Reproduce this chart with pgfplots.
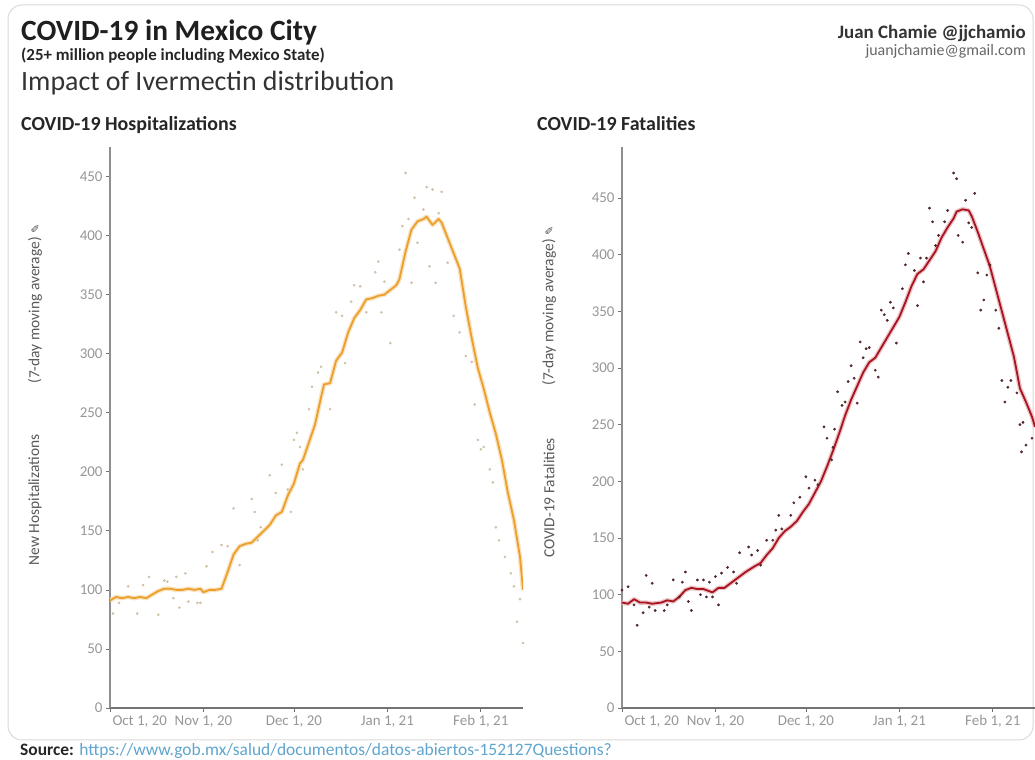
\documentclass[border=0pt]{standalone}
\usepackage{pgfplots}
\usepackage{pgfplotstable}
\pgfplotsset{compat=1.18}
\usepackage{fontspec}
\setmainfont{Carlito}
\newfontfamily\dejavu{DejaVu Sans}

\definecolor{hosp}{RGB}{236,160,44}
\definecolor{fatal}{RGB}{170,20,32}
\definecolor{hdot}{RGB}{208,192,166}
\definecolor{fdot}{RGB}{80,40,45}
\definecolor{tickgray}{RGB}{150,150,150}
\definecolor{axgray}{RGB}{115,115,115}
\definecolor{linkblue}{RGB}{95,165,205}
\newcommand\octlab{Oct 1, 20}

% 7-day moving averages, day 0 = Oct 1, 2020
\pgfplotstableread{
x y
0 91
2 94
4 93
6 94
8 93
10 94
12 93
14 96
16 99
18 101
20 101
22 100
24 100
26 101
28 100
30 101
31 98
33 100
35 100
37 101
39 115
41 130
43 137
45 139
47 140
49 145
51 150
53 155
55 163
57 166
59 180
61 190
63 207
64 210
66 225
68 240
70 263
71 274
73 275
75 294
77 301
79 318
81 330
83 337
85 346
87 347
89 349
91 350
93 354
95 358
96 363
98 386
100 405
102 412
104 414
105 416
107 409
109 414
110 411
112 398
114 385
116 372
118 340
120 313
122 288
124 270
126 250
128 232
130 210
132 182
134 159
136 128
137 100
}\hospma

\pgfplotstableread{
x y
0 93
2 92
4 96
6 93
8 93
10 92
13 93
15 95
17 94
19 98
21 104
23 106
25 105
27 105
29 103
30 102
32 106
34 106
36 110
38 114
41 120
44 125
46 128
48 135
50 141
52 150
54 156
56 160
58 165
60 173
62 180
64 190
66 200
68 213
70 227
72 242
74 258
76 272
78 284
80 296
82 305
84 309
86 318
88 327
90 336
92 345
94 358
96 372
98 383
100 387
102 395
104 403
106 415
108 424
110 432
111 438
113 440
115 439
116 434
118 420
120 405
122 390
124 370
126 350
128 330
130 310
132 282
134 270
136 257
137 248
}\fatalma

\pgfplotsset{chamie/.style={
  scale only axis, width=413bp, height=561bp,
  xmin=0, xmax=137,
  axis x line*=bottom, axis y line*=left,
  x axis line style={axgray, line width=1.6bp},
  y axis line style={axgray!80, line width=1.2bp},
  xtick={31,61,92,123},
  xticklabels={{Nov 1, 20},{Dec 1, 20},{Jan 1, 21},{Feb 1, 21}},
  extra x ticks={0},
  extra x tick labels={\octlab},
  extra x tick style={xticklabel style={anchor=north west, xshift=-1bp}},
  ytick={0,50,...,450},
  tick align=outside, major tick length=4bp,
  tick style={axgray, line width=0.7bp},
  /pgf/number format/assume math mode=true,
  ticklabel style={font=\fontsize{15}{15}\selectfont, text=tickgray},
}}

\begin{document}
\begin{tikzpicture}[x=1bp,y=1bp]
\useasboundingbox (0,0) rectangle (1035,760);
\draw[black!15, line width=1bp, rounded corners=14bp] (8,20) rectangle (1033,755);

% titles
\node[anchor=base west, inner sep=0, text=black!88] at (21,719)
  {\fontsize{29.5}{30}\selectfont\bfseries COVID-19 in Mexico City};
\node[anchor=base west, inner sep=0, text=black!85] at (21,699)
  {\fontsize{17}{17}\selectfont\bfseries (25+ million people including Mexico State)};
\node[anchor=base west, inner sep=0, text=black!80] at (21,669)
  {\fontsize{28}{28}\selectfont Impact of Ivermectin distribution};
\node[anchor=base east, inner sep=0, text=black!80] at (1026,721)
  {\fontsize{19}{19}\selectfont\bfseries Juan Chamie @jjchamio};
\node[anchor=base east, inner sep=0, text=black!60] at (1026,704)
  {\fontsize{16}{16}\selectfont juanjchamie@gmail.com};
\node[anchor=base west, inner sep=0, text=black!85] at (21,629)
  {\fontsize{20}{20}\selectfont\bfseries COVID-19 Hospitalizations};
\node[anchor=base west, inner sep=0, text=black!85] at (537,629)
  {\fontsize{20}{20}\selectfont\bfseries COVID-19 Fatalities};
\node[anchor=base west, inner sep=0] at (20,4)
  {\fontsize{17.5}{18}\selectfont{\bfseries\color{black!85}Source:} \color{linkblue}https://www.gob.mx/salud/documentos/datos-abiertos-152127Questions?};

% axis titles
\node[rotate=90, inner sep=0, text=black!65] at (35,456)
  {\fontsize{15.5}{16}\selectfont (7-day moving average)\ {\dejavu\color{black!70}\fontsize{11}{11}\selectfont ✎}};
\node[rotate=90, inner sep=0, text=black!65] at (35,260)
  {\fontsize{15.5}{16}\selectfont New Hospitalizations};
\node[rotate=90, inner sep=0, text=black!65] at (549,454)
  {\fontsize{15.5}{16}\selectfont (7-day moving average)\ {\dejavu\color{black!70}\fontsize{11}{11}\selectfont ✎}};
\node[rotate=90, inner sep=0, text=black!65] at (549,262)
  {\fontsize{15.5}{16}\selectfont COVID-19 Fatalities};

\begin{axis}[chamie, at={(110bp,52bp)}, anchor=south west, ymin=0, ymax=475]
\addplot[only marks, mark=*, mark size=1.1bp, color=hdot] coordinates {
(1,80)(3,89)(6,103)(9,80)(11,104)(13,111)(16,79)(18,108)(19,107)(21,93)(22,111)
(23,85)(25,114)(26,90)(29,89)(30,89)(32,120)(34,132)(37,138)(39,137)(41,169)
(43,121)(47,177)(48,166)(49,142)(50,153)(53,197)(55,182)(57,206)(59,185)(60,166)
(61,227)(62,233)(63,221)(64,202)(66,253)(67,272)(69,284)(70,289)(73,253)(75,335)
(77,332)(78,292)(80,344)(81,358)(83,357)(85,335)(88,369)(89,378)(90,335)(91,361)
(93,309)(96,388)(97,408)(98,453)(99,414)(100,360)(101,432)(102,394)(104,422)
(105,441)(106,374)(107,439)(108,360)(109,419)(110,437)(112,377)(114,332)(116,318)
(118,298)(120,293)(121,257)(122,227)(123,219)(124,221)(126,202)(127,191)(128,153)
(129,142)(131,128)(133,114)(134,103)(135,73)(136,92)(137,55)
};
\addplot[hosp!30, line width=4.5bp, line join=round] table {\hospma};
\addplot[hosp, line width=1.8bp, line join=round] table {\hospma};
\end{axis}

\begin{axis}[chamie, at={(622bp,52bp)}, anchor=south west, ymin=0, ymax=495]
\addplot[only marks, mark=*, mark size=1.2bp, color=fdot] coordinates {
(0,104)(2,107)(4,91)(5,73)(7,84)(8,117)(9,89)(10,110)(11,86)(14,86)(15,91)
(17,113)(19,98)(20,111)(21,120)(22,94)(23,86)(25,113)(26,100)(27,113)(28,98)
(29,111)(30,98)(31,116)(32,91)(33,119)(35,124)(37,120)(38,110)(39,137)(42,142)
(43,135)(45,139)(46,126)(48,148)(50,148)(51,157)(52,170)(53,158)(56,170)(57,181)
(59,186)(61,204)(62,194)(64,201)(65,197)(67,248)(68,238)(69.5,219)(70,230)
(70.5,246)(71.5,279)(73,267)(74,270)(75,288)(76,302)(77,291)(78,269)(79,323)
(80,309)(81,317)(82,318)(84,298)(85,292)(86,351)(87,347)(88,342)(89,358)(90,353)
(91,322)(93,370)(94,391)(95,401)(97,386)(98,355)(99,397)(100,376)(101,397)
(102,441)(103,429)(104,408)(105,417)(107,429)(108,439)(110,472)(111,467)
(111.5,417)(113,411)(114,448)(115,428)(116,424)(117,454)(118,384)(119,351)
(120,360)(121,382)(122,391)(124,351)(125,335)(126,289)(127,270)(128,283)
(129,289)(131,278)(132,250)(132.5,226)(133,252)(134,232)(136,238)
};
\addplot[fatal!25, line width=4.5bp, line join=round] table {\fatalma};
\addplot[fatal, line width=1.8bp, line join=round] table {\fatalma};
\end{axis}
\end{tikzpicture}
\end{document}
